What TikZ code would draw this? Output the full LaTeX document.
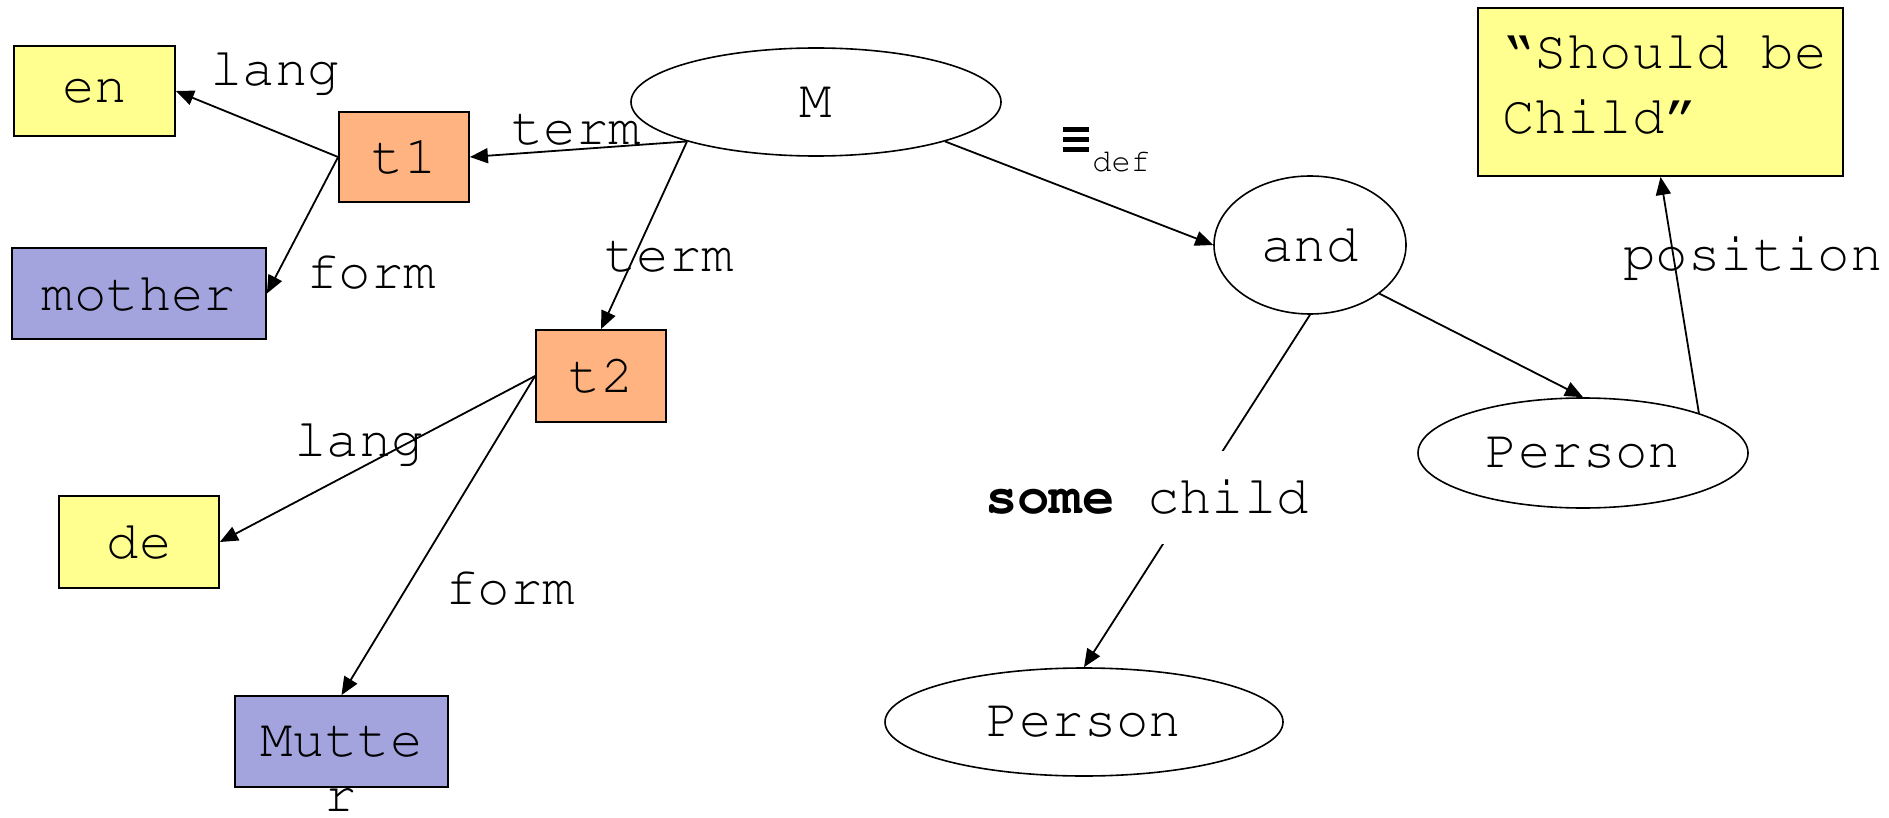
\documentclass[tikz,border=0pt]{standalone}
\usepackage[T1]{fontenc}
\usepackage{courier}
\usetikzlibrary{arrows.meta,shapes.geometric}
\definecolor{cyel}{RGB}{255,255,143}
\definecolor{corg}{RGB}{255,179,128}
\definecolor{cpur}{RGB}{163,163,222}
\newcommand{\eqbars}{\vbox{\hrule width 13pt height 2.2pt\vskip 2.8pt\hrule width 13pt height 2.2pt\vskip 2.8pt\hrule width 13pt height 2.2pt}}
\begin{document}
\begin{tikzpicture}[x=0.5pt,y=-0.5pt,
  every node/.style={font=\ttfamily\fontsize{27}{32.5}\selectfont},
  box/.style={draw=black, line width=0.9pt, rectangle, inner sep=0pt},
  oval/.style={draw=black, line width=0.8pt, ellipse, inner sep=0pt},
  edge/.style={line width=0.9pt, -{Triangle[length=9pt,width=7.5pt]}},
  lbl/.style={inner sep=0pt}]
\useasboundingbox (0,0) rectangle (1889,818);
% boxes
\node[box, fill=cyel, minimum width=80.5pt, minimum height=45pt] (en) at (94.5,91) {en};
\node[box, fill=corg, minimum width=65pt, minimum height=45pt] (t1) at (404,157) {t1};
\node[box, fill=cpur, minimum width=127pt, minimum height=45.5pt] (mother) at (139,293.5) {mother};
\node[box, fill=corg, minimum width=65pt, minimum height=46pt] (t2) at (601,376) {t2};
\node[box, fill=cyel, minimum width=80pt, minimum height=46pt] (de) at (139,542) {de};
\node[box, fill=cpur, minimum width=106.5pt, minimum height=45.5pt] (mutter) at (341.5,741.5) {Mutte};
\node[lbl] (mutterr) at (341,800) {r};
\node[box, fill=cyel, minimum width=182.5pt, minimum height=84pt] (sb) at (1660.5,92) {};
\node[lbl, anchor=north west, align=left] (sbt) at (1502,34) {\textquotedblleft Should be\\Child\textquotedblright};
% ellipses
\node[oval, minimum width=185pt, minimum height=54pt] (M) at (816,102) {M};
\node[oval, minimum width=96pt, minimum height=69pt] (and) at (1310,245) {and};
\node[oval, minimum width=165pt, minimum height=55pt] (p1) at (1583,453) {Person};
\node[oval, minimum width=199pt, minimum height=54pt] (p2) at (1084,722) {Person};
% edges
\draw[edge] (t1.west) -- (en.east);
\draw[edge] (t1.west) -- (mother.east);
\draw[edge] (M.197) -- (t1.east);
\draw[edge] (M.197) -- (t2.north);
\draw[edge] (M.343) -- (and.west);
\draw[edge] (and.325) -- (p1.north);
\draw[edge] (p1.19) -- (sb.south);
\draw[edge] (t2.west) -- (de.east);
\draw[edge] (t2.west) -- (mutter.north);
\draw[edge] (and.south) -- (p2.north);
% edge labels
\node[lbl] (llang1) at (275,72) {lang};
\node[lbl] (lterm1) at (576,130) {term};
\node[lbl] (lform1) at (371,272) {form};
\node[lbl] (lterm2) at (669,257) {term};
\node[lbl] (lpos) at (1753,257) {position};
\node[lbl] (llang2) at (359,443) {lang};
\node[lbl] (lform2) at (510,588) {form};
\node[lbl, anchor=north west] (ldef) at (1063,127) {\eqbars\hspace{1.5pt}\raisebox{-10pt}{\fontsize{16}{18}\selectfont def}};
\node[lbl, fill=white, minimum height=46.5pt, inner xsep=2pt] (lsc) at (1147,497) {\textbf{some} child};
\end{tikzpicture}
\end{document}
